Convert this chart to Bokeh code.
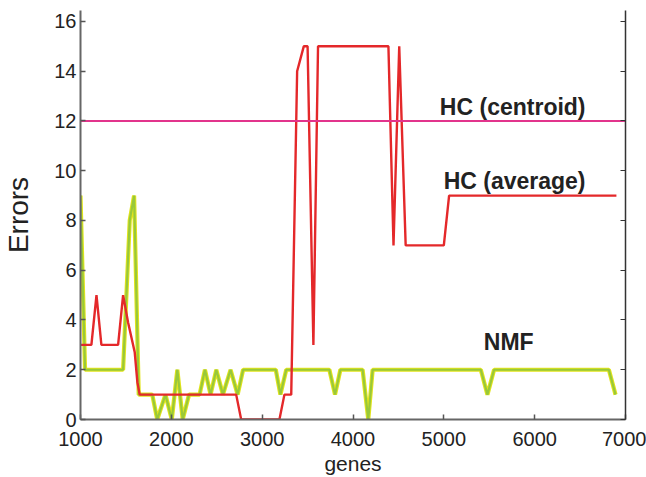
from bokeh.plotting import figure
from bokeh.models import Range1d, LinearAxis, FixedTicker, Label, CustomJSTickFormatter
from bokeh.embed import file_html
from bokeh.resources import INLINE

# ---- data ----
x_ticks = [1000, 2000, 3000, 4000, 5000, 6000, 7000]
y_ticks = [0, 2, 4, 6, 8, 10, 12, 14, 16]

# HC (average)
avg_genes = [1000, 1120, 1176, 1230, 1414, 1469, 1524, 1597, 1626, 1652,
             2714, 2769, 3190, 3245, 3320, 3385, 3458, 3500, 3564, 3615,
             4390, 4446, 4509, 4580, 5000, 5058, 6900]
avg_errors = [3, 3, 5, 3, 3, 5, 3.9, 2.7, 1.5, 1,
              1, 0, 0, 1, 1, 14, 15, 15, 3, 15,
              15, 7, 15, 7, 7, 9, 9]

# NMF
nmf_genes = [1000, 1050, 1469, 1542, 1590, 1641, 1790, 1845, 1935, 2005,
             2066, 2125, 2195, 2311, 2370, 2432, 2495, 2568, 2652, 2730,
             2790, 3150, 3201, 3265, 3740, 3802, 3861, 4106, 4168, 4216,
             5407, 5480, 5553, 6817, 6890]
nmf_errors = [9, 2, 2, 8, 9, 1, 1, 0, 1, 0,
              2, 0, 1, 1, 2, 1, 2, 1, 2, 1,
              2, 2, 1, 2, 2, 1, 2, 2, 0, 2,
              2, 1, 2, 2, 1]

# HC (centroid)
centroid_genes = [1000, 7000]
centroid_errors = [12, 12]

FONT = "Liberation Sans"

p = figure(width=646, height=477,
           x_range=Range1d(1000, 7000), y_range=Range1d(0, 16.44),
           output_backend="svg", toolbar_location=None,
           min_border_left=79, min_border_right=21,
           min_border_top=10, min_border_bottom=56)
p.outline_line_color = None
p.xgrid.visible = False
p.ygrid.visible = False
p.background_fill_color = "white"
p.border_fill_color = "white"

# lines
p.line(nmf_genes, nmf_errors, line_color="#e2e41c", line_width=4.2)
p.line(nmf_genes, nmf_errors, line_color="#98c83a", line_width=2.2)
p.line(avg_genes, avg_errors, line_color="#e4282a", line_width=2.4)
p.line(centroid_genes, centroid_errors, line_color="#e2348c", line_width=2)

# axes
for ax in (p.xaxis[0], p.yaxis[0]):
    ax.axis_line_color = "#666666"
    ax.axis_line_width = 2
    ax.major_tick_in = 5
    ax.major_tick_out = 0
    ax.minor_tick_line_color = None
    ax.major_tick_line_color = "#555555"
    ax.major_tick_line_width = 1.5
    ax.major_label_text_font = FONT
    ax.major_label_text_font_size = "20px"
    ax.major_label_text_color = "#222222"
    ax.axis_label_text_font = FONT
    ax.axis_label_text_font_style = "normal"
    ax.axis_label_text_color = "#222222"

p.xaxis.ticker = FixedTicker(ticks=x_ticks)
p.yaxis.ticker = FixedTicker(ticks=y_ticks)
p.xaxis.major_label_standoff = 12
p.xaxis.axis_label = "genes"
p.xaxis.axis_label_text_font_size = "21px"
p.xaxis.axis_label_standoff = 3

p.yaxis.major_label_standoff = 4
p.yaxis.axis_label = "Errors"
p.yaxis.axis_label_text_font_size = "28px"
p.yaxis.axis_label_standoff = 17

right = LinearAxis(ticker=FixedTicker(ticks=y_ticks),
                   formatter=CustomJSTickFormatter(code="return ''"))
right.axis_line_color = "#333333"
right.axis_line_width = 1.5
right.major_tick_in = 5
right.major_tick_out = 0
right.major_tick_line_color = "#333333"
right.minor_tick_line_color = None
right.major_label_standoff = 0
p.add_layout(right, "right")

# series annotations
for tx, ty, txt, align in [(6560, 12.55, "HC (centroid)", "right"),
                           (6560, 9.57, "HC (average)", "right"),
                           (5440, 3.13, "NMF", "left")]:
    p.add_layout(Label(x=tx, y=ty, text=txt, text_align=align,
                       text_baseline="alphabetic", text_font=FONT,
                       text_font_size="23px", text_font_style="bold",
                       text_color="#222222"))

open("out.html", "w").write(file_html(p, INLINE))
